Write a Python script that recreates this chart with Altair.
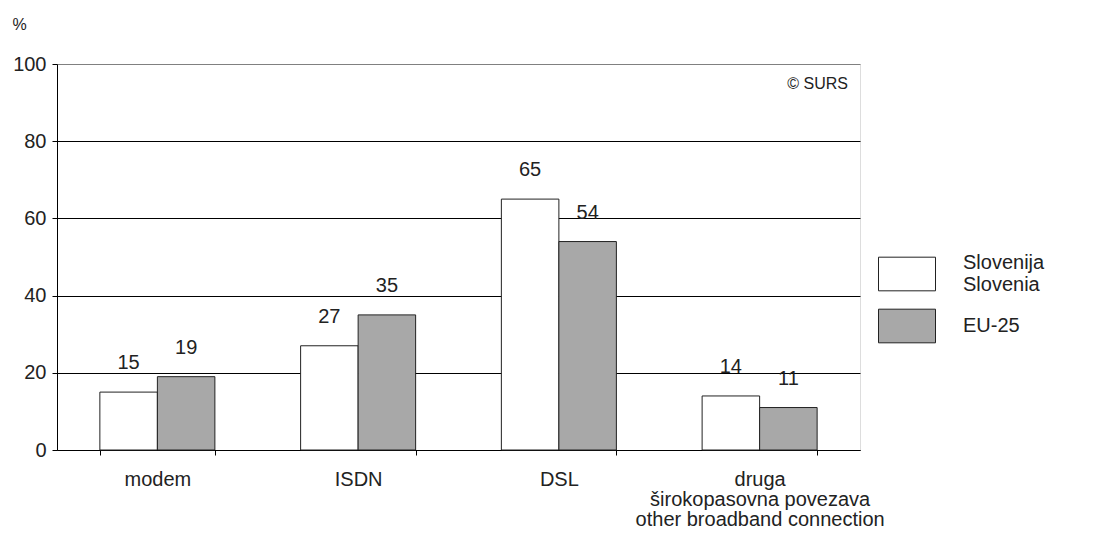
import altair as alt
import pandas as pd

categories = ["modem", "ISDN", "DSL", "druga|širokopasovna povezava|other broadband connection"]
series = ["Slovenija|Slovenia", "EU-25"]
slovenija = [15, 27, 65, 14]
eu25 = [19, 35, 54, 11]

rows = []
for c, a, b in zip(categories, slovenija, eu25):
    rows.append({"cat": c, "series": series[0], "value": a})
    rows.append({"cat": c, "series": series[1], "value": b})
df = pd.DataFrame(rows)

FONT = "Liberation Sans"
FS = 20
W, H = 803, 386

x = alt.X("cat:N", sort=categories, title=None,
          scale=alt.Scale(paddingInner=0.427, paddingOuter=0.2135),
          axis=alt.Axis(labelExpr="split(datum.label, '|')", labelAngle=0,
                        tickBand="extent", tickSize=5, tickColor="#000",
                        domainColor="#000", labelFontSize=FS, labelFont=FONT,
                        labelColor="#222", labelPadding=14, labelLineHeight=20,
                        labelBaseline="top", labelLimit=500))
xo = alt.XOffset("series:N", sort=series)
y = alt.Y("value:Q", title="%", scale=alt.Scale(domain=[0, 100]),
          axis=alt.Axis(values=[0, 20, 40, 60, 80, 100], tickSize=5, tickColor="#000",
                        domainColor="#000", labelFontSize=FS, labelFont=FONT,
                        labelColor="#222", labelPadding=6,
                        gridColor=alt.condition("datum.value == 100", alt.value("#808080"), alt.value("#000")),
                        gridWidth=1,
                        titleAngle=0, titleX=-45, titleY=-48, titleAlign="left",
                        titleBaseline="top", titleFontSize=16, titleFont=FONT,
                        titleFontWeight="normal", titleColor="#222"))

bars = alt.Chart(df).mark_bar(stroke="#222", strokeWidth=1).encode(
    x=x, xOffset=xo, y=y,
    color=alt.Color("series:N", sort=series,
                    scale=alt.Scale(domain=series, range=["#ffffff", "#a8a8a8"]),
                    legend=alt.Legend(title=None, orient="none", legendX=821, legendY=181,
                                      symbolType="M-1,-0.59H1V0.59H-1Z", symbolSize=3249,
                                      symbolStrokeColor="#222", symbolStrokeWidth=1,
                                      labelExpr="split(datum.label, '|')",
                                      labelBaseline=alt.ExprRef(
                                          "indexof(datum.value, '|') >= 0 ? 'line-bottom' : 'middle'"),
                                      labelFontSize=FS, labelFont=FONT, labelColor="#222",
                                      labelOffset=27, rowPadding=2)),
)

labels = alt.Chart(df).mark_text(dy=-23, baseline="alphabetic", fontSize=FS,
                                 font=FONT, color="#222").encode(
    x=x, xOffset=xo, y=y, text=alt.Text("value:Q"))

credit = alt.Chart(pd.DataFrame({"t": ["© SURS"]})).mark_text(
    align="right", baseline="alphabetic", fontSize=16, font=FONT, color="#222"
).encode(x=alt.value(791), y=alt.value(25), text="t:N")

chart = alt.layer(bars, labels, credit).properties(
    width=W, height=H,
    autosize=alt.AutoSizeParams(type="none"),
    padding={"left": 49, "top": 56, "right": 250, "bottom": 87},
).configure_view(stroke="#808080", strokeWidth=1).configure(background="white")

chart.save("out.html", embed_options={"renderer": "svg", "actions": False})
